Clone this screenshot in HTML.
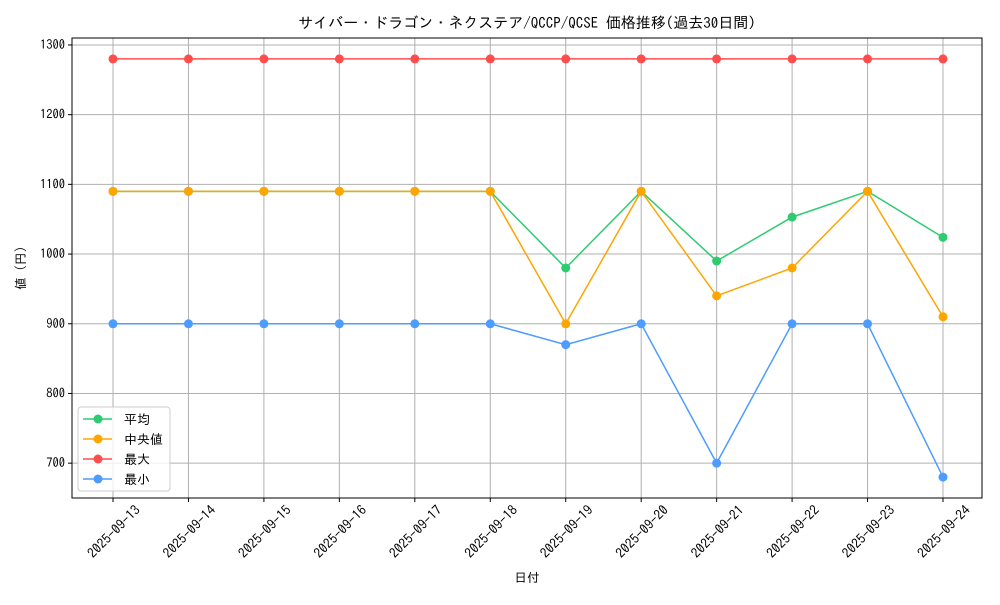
<!DOCTYPE html>
<html><head><meta charset="utf-8">
<style>
body{margin:0;background:#fff;}
svg text{font-family:"IPAGothic","Liberation Sans","Noto Sans CJK JP",sans-serif;fill:#000;}
</style></head><body>
<svg id="chart" width="1000" height="600" xmlns="http://www.w3.org/2000/svg">
<rect width="1000" height="600" fill="#fff"/>
<g id="grid"></g>
<g id="series"></g>
<rect x="72" y="38" width="910" height="460" fill="none" stroke="#000" stroke-width="1"/>
<g id="axes"></g>
<text x="527" y="28" font-size="15" text-anchor="middle">サイバー・ドラゴン・ネクステア/QCCP/QCSE 価格推移(過去30日間)</text>
<text x="527" y="582" font-size="12.5" text-anchor="middle">日付</text>
<text transform="translate(25,268) rotate(-90)" font-size="12.5" text-anchor="middle">値 (円)</text>
<g id="legend"></g>
</svg>
<script>
const dates=["2025-09-13","2025-09-14","2025-09-15","2025-09-16","2025-09-17","2025-09-18","2025-09-19","2025-09-20","2025-09-21","2025-09-22","2025-09-23","2025-09-24"];
const avgValues=[1090,1090,1090,1090,1090,1090,980,1090,990,1053,1090,1024];
const medianValues=[1090,1090,1090,1090,1090,1090,900,1090,940,980,1090,910];
const maxValues=[1280,1280,1280,1280,1280,1280,1280,1280,1280,1280,1280,1280];
const minValues=[900,900,900,900,900,900,870,900,700,900,900,680];
const yTicks=[700,800,900,1000,1100,1200,1300];
const seriesNames=["平均","中央値","最大","最小"];

const NS="http://www.w3.org/2000/svg";
const L=72,R=982,T=38,B=498;
const allV=[].concat(avgValues,medianValues,maxValues,minValues);
let vmin=Math.min(...allV),vmax=Math.max(...allV),pad=(vmax-vmin)*0.05;
const y0=vmin-pad,y1=vmax+pad;
const xp=i=>113+i*(943-113)/(dates.length-1);
const yp=v=>B-(v-y0)/(y1-y0)*(B-T);
function mk(tag,attrs,parent){const e=document.createElementNS(NS,tag);for(const k in attrs)e.setAttribute(k,attrs[k]);parent.appendChild(e);return e;}
const grid=document.getElementById('grid'),axes=document.getElementById('axes'),ser=document.getElementById('series'),leg=document.getElementById('legend');
dates.forEach((d,i)=>{
  const g=mk('line',{x1:xp(i),x2:xp(i),y1:T,y2:B,stroke:'#b0b0b0','stroke-width':1},grid);
  
  
  const t=mk('line',{x1:xp(i),x2:xp(i),y1:B,y2:B+4,stroke:'#000'},axes);
  
  
  const tx=mk('text',{x:0,y:0,'font-size':13.5,'text-anchor':'end',transform:`translate(${xp(i)+28},${B+13}) rotate(-45)`},axes);
  tx.textContent=d;
  
  
});
yTicks.forEach(v=>{
  const g=mk('line',{x1:L,x2:R,y1:yp(v),y2:yp(v),stroke:'#b0b0b0','stroke-width':1},grid);
  
  
  const t=mk('line',{x1:L-4,x2:L,y1:yp(v),y2:yp(v),stroke:'#000'},axes);
  
  
  const tx=mk('text',{x:L-7,y:yp(v)+4,'font-size':12.5,'text-anchor':'end'},axes);
  tx.textContent=v;
  
  
});
const seriesData=[avgValues,medianValues,maxValues,minValues];
const colors=["#2ecc71","#ffa500","#ff4d4d","#4d9cff"];
const keys=["avg","median","max","min"];
seriesData.forEach((arr,s)=>{
  const pl=mk('polyline',{points:arr.map((v,i)=>xp(i)+','+yp(v)).join(' '),fill:'none',stroke:colors[s],'stroke-width':1.5},ser);
  
  
  arr.forEach((v,i)=>{
    const c=mk('circle',{cx:xp(i),cy:yp(v),r:4.5,fill:colors[s]},ser);
    
    
  });
});
const lb=mk('rect',{x:78,y:407,width:92,height:84,rx:3,fill:'#fff','fill-opacity':0.8,stroke:'#ccc'},leg);


seriesNames.forEach((n,s)=>{
  const yy=419+s*20;
  const g=mk('g',{},leg);
  
  
  mk('line',{x1:83,x2:112,y1:yy,y2:yy,stroke:colors[s],'stroke-width':1.5},g);
  mk('circle',{cx:98,cy:yy,r:4.5,fill:colors[s]},g);
  const t=mk('text',{x:124,y:yy+5,'font-size':13},g);
  t.textContent=n;
});
</script>
</body></html>
